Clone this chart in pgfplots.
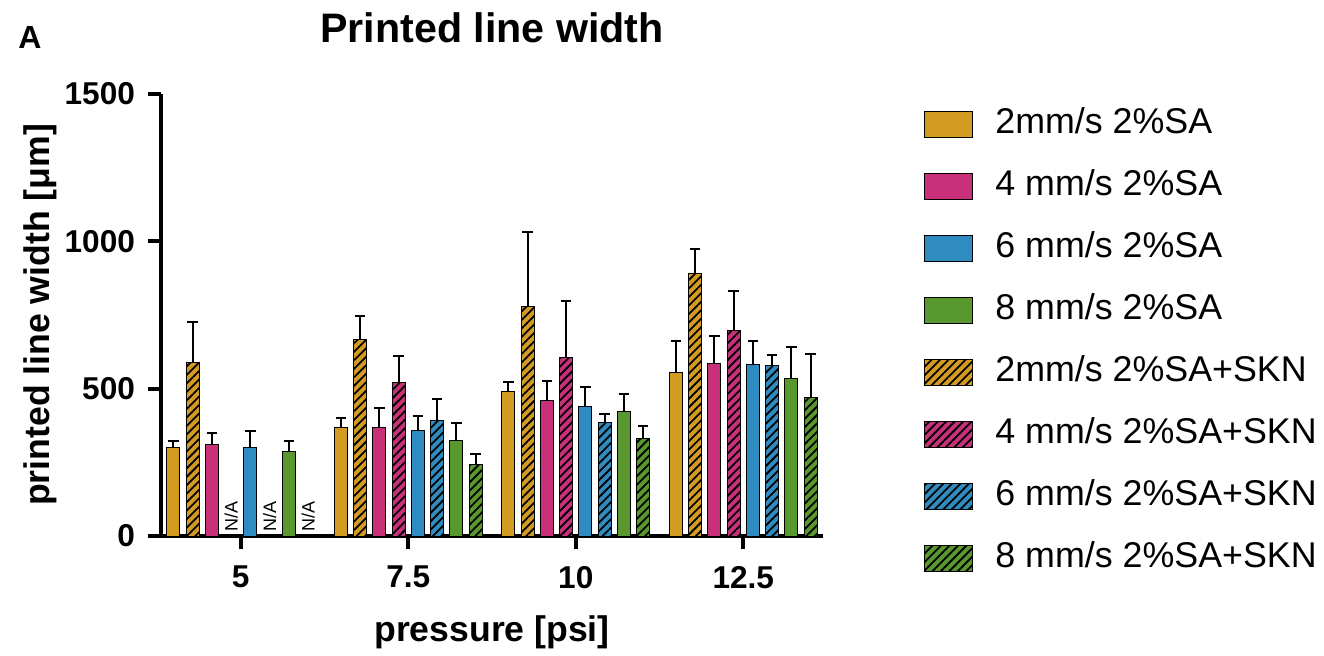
\documentclass[border=0pt]{standalone}
\usepackage{fontspec}
\setmainfont{Liberation Sans}
\usepackage{pgfplots}
\pgfplotsset{compat=1.18}
\usepackage{pgfplotstable}
\usetikzlibrary{patterns.meta}

\definecolor{cOrange}{RGB}{212,155,35}
\definecolor{cPink}{RGB}{200,48,122}
\definecolor{cBlue}{RGB}{48,140,192}
\definecolor{cGreen}{RGB}{88,152,46}

% x: 0=5, 1=7.5, 2=10, 3=12.5 psi; y: mean; e: upper error
\pgfplotstableread{
x y e
0 302 20
1 367 35
2 492 30
3 555 106
}\saTwo
\pgfplotstableread{
x y e
0 312 37
1 367 68
2 460 65
3 586 92
}\saFour
\pgfplotstableread{
x y e
0 302 54
1 359 47
2 440 66
3 582 80
}\saSix
\pgfplotstableread{
x y e
0 288 34
1 323 59
2 424 58
3 535 108
}\saEight
\pgfplotstableread{
x y e
0 590 135
1 668 79
2 779 252
3 890 84
}\sknTwo
\pgfplotstableread{
x y e
1 520 90
2 607 190
3 698 132
}\sknFour
\pgfplotstableread{
x y e
1 393 71
2 385 29
3 579 35
}\sknSix
\pgfplotstableread{
x y e
1 243 37
2 331 43
3 470 149
}\sknEight

\pgfplotsset{
  solidbar/.style={ybar, bar width=0.0776, bar shift=0, fill=#1, draw=black, line width=0.5pt},
  hatchbar/.style={ybar, bar width=0.0776, bar shift=0, fill=#1, draw=black, line width=0.5pt,
    postaction={pattern={Lines[angle=45,distance=3pt,line width=0.9pt]}}},
  errs/.style={error bars/.cd, y dir=plus, y explicit,
    error bar style={line width=1pt, black, solid},
    error mark options={rotate=90, mark size=2.6pt, line width=1pt, black}},
}
% plot a group member at offset #1 from the group centre
\newcommand{\barsat}[3]{%
  \addplot[#2, errs] table[x expr=\thisrow{x}+#1, y=y, y error=e] {#3};}

\begin{document}
\begin{tikzpicture}
\begin{axis}[
  scale only axis, width=331pt, height=221pt,
  xmin=-0.476, xmax=3.476, ymin=0, ymax=1500,
  axis lines=left, axis line style={-, line width=2pt},
  xtick={0,1,2,3}, xticklabels={5,7.5,10,12.5},
  ytick={0,500,1000,1500},
  tick align=outside, major tick length=6.5pt,
  tick style={line width=2pt, black},
  /pgf/number format/assume math mode=true,
  /pgf/number format/1000 sep={},
  ticklabel style={font=\bfseries\fontsize{15.8}{18}\selectfont},
  xticklabel style={yshift=-5pt},
  yticklabel style={xshift=-3pt},
  xlabel={pressure [psi]}, ylabel={printed line width [μm]},
  label style={font=\bfseries\fontsize{17.8}{21}\selectfont},
  xlabel style={at={(axis description cs:0.5,-0.217)}, anchor=center},
  ylabel style={at={(axis description cs:-0.183,0.5)}, anchor=center, rotate=0},
  legend cell align=left,
  legend image code/.code={\draw[#1] (0pt,-6.5pt) rectangle (24pt,6.5pt);},
  legend style={at={(axis description cs:1,1)}, anchor=north west, xshift=47.5pt, yshift=-3pt,
    draw=none, fill=none, font=\fontsize{17.9}{20}\selectfont, row sep=11pt,
    nodes={inner sep=2pt, text height=12.5pt, text depth=3.5pt},
    /tikz/every odd column/.append style={column sep=9pt}},
  clip=false,
]
\barsat{-0.4025}{solidbar=cOrange}{\saTwo}
\addlegendentry{2mm/s 2\%SA}
\barsat{-0.1725}{solidbar=cPink}{\saFour}
\addlegendentry{4 mm/s 2\%SA}
\barsat{0.0575}{solidbar=cBlue}{\saSix}
\addlegendentry{6 mm/s 2\%SA}
\barsat{0.2875}{solidbar=cGreen}{\saEight}
\addlegendentry{8 mm/s 2\%SA}
\barsat{-0.2875}{hatchbar=cOrange}{\sknTwo}
\addlegendentry{2mm/s 2\%SA+SKN}
\barsat{-0.0575}{hatchbar=cPink}{\sknFour}
\addlegendentry{4 mm/s 2\%SA+SKN}
\barsat{0.1725}{hatchbar=cBlue}{\sknSix}
\addlegendentry{6 mm/s 2\%SA+SKN}
\barsat{0.4025}{hatchbar=cGreen}{\sknEight}
\addlegendentry{8 mm/s 2\%SA+SKN}

\node[rotate=90, anchor=west, inner sep=2pt, font=\fontsize{9}{10}\selectfont] at (axis cs:-0.0575,0) {N/A};
\node[rotate=90, anchor=west, inner sep=2pt, font=\fontsize{9}{10}\selectfont] at (axis cs:0.1725,0) {N/A};
\node[rotate=90, anchor=west, inner sep=2pt, font=\fontsize{9}{10}\selectfont] at (axis cs:0.4025,0) {N/A};

\node[font=\bfseries\fontsize{20.6}{24}\selectfont] at (axis description cs:0.5,1.149) {Printed line width};
\node[font=\bfseries\fontsize{16}{18}\selectfont] at (axis description cs:-0.198,1.127) {A};
\end{axis}
\pgfresetboundingbox
\path (-80.5pt,-59.5pt) rectangle (581.5pt,268pt);
\end{tikzpicture}
\end{document}
